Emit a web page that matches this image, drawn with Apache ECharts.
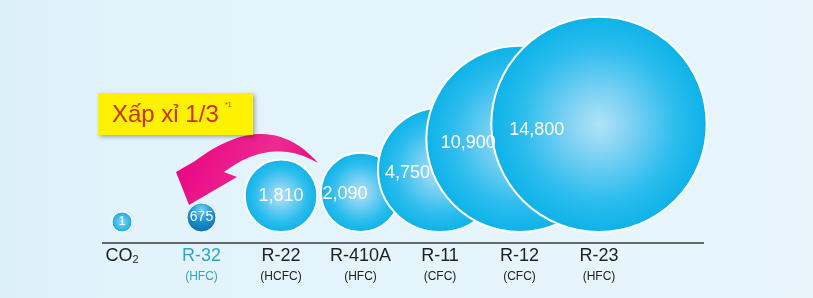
<!DOCTYPE html>
<html>
<head>
<meta charset="utf-8">
<script src="https://cdn.jsdelivr.net/npm/echarts@6/dist/echarts.min.js"></script>
<style>
html,body{margin:0;padding:0;background:#e3f4fb;}
#c{width:813px;height:298px;}
</style>
</head>
<body>
<div id="c"></div>
<script>
// ---- data ----
const categories = ['CO2', 'R-32', 'R-22', 'R-410A', 'R-11', 'R-12', 'R-23'];
const refTypes = ['', 'HFC', 'HCFC', 'HFC', 'CFC', 'CFC', 'HFC'];
const gwp = [1, 675, 1810, 2090, 4750, 10900, 14800];
const calloutText = 'Xấp xỉ 1/3';
const calloutNote = '*1';
const highlightCategory = 'R-32';

const FONT = '"Liberation Sans", Arial, sans-serif';
const sizeOf = v => Math.max(20, 2.77 * Math.pow(Math.max(v - 500, 0), 0.455));
const fmt = v => String(v).replace(/\B(?=(\d{3})+(?!\d))/g, ',');

function bubbleStyle(v) {
  if (v < 100) {
    return { opacity: 1, color: { type: 'radial', x: 0.5, y: 0.5, r: 0.5, colorStops: [
      { offset: 0, color: '#8edcf8' }, { offset: 0.6, color: '#3dbbeb' }, { offset: 1, color: '#1ea6df' }] },
      borderColor: '#ffffff', borderWidth: 1 };
  }
  if (v < 1000) {
    return { opacity: 1, color: { type: 'radial', x: 0.5, y: 0.25, r: 0.8, colorStops: [
      { offset: 0, color: '#7ad3f5' }, { offset: 0.45, color: '#1e92d0' }, { offset: 1, color: '#0b6aa8' }] },
      borderColor: '#ffffff', borderWidth: 1 };
  }
  return { opacity: 1, color: { type: 'radial', x: 0.5, y: 0.5, r: 0.5, colorStops: [
    { offset: 0, color: '#b2e3f7' }, { offset: 0.3, color: '#7dd1f3' },
    { offset: 0.7, color: '#2dbdee' }, { offset: 1, color: '#0cb2e8' }] },
    borderColor: '#ffffff', borderWidth: 2 };
}

function bubbleLabel(v, d) {
  const base = { show: true, color: '#ffffff', fontFamily: FONT,
    formatter: p => fmt(gwp[p.dataIndex]) };
  if (v < 100) return Object.assign(base, { position: 'inside', fontSize: 12 });
  if (v < 1000) return Object.assign(base, { position: 'inside', fontSize: 14 });
  if (v < 2000) return Object.assign(base, { position: 'inside', fontSize: 18 });
  return Object.assign(base, { position: [Math.max(2, 0.12 * d - 7), d * 0.53],
    align: 'left', verticalAlign: 'middle', fontSize: 18 });
}

const seriesData = gwp.map((v, i) => {
  const d = sizeOf(v);
  return {
    value: [categories[i], 0],
    symbolSize: d,
    symbolOffset: [0, -d / 2],
    itemStyle: bubbleStyle(v),
    label: bubbleLabel(v, d)
  };
});

// curved arrow (decoration)
function quad(p0, c, p1, n) {
  const pts = [];
  for (let k = 0; k <= n; k++) {
    const t = k / n, u = 1 - t;
    pts.push([u * u * p0[0] + 2 * u * t * c[0] + t * t * p1[0],
              u * u * p0[1] + 2 * u * t * c[1] + t * t * p1[1]]);
  }
  return pts;
}
const arrowPts = []
  .concat(quad([318, 163], [268, 106], [195, 161], 30))
  .concat([[176, 172], [189, 205], [237, 177], [224, 172]])
  .concat(quad([224, 172], [272, 136], [318, 163], 30).slice(1));

const chart = echarts.init(document.getElementById('c'), null, { renderer: 'canvas' });
chart.setOption({
  animation: false,
  backgroundColor: { type: 'linear', x: 0, y: 0, x2: 1, y2: 0, colorStops: [
    { offset: 0, color: '#dcf0fa' }, { offset: 0.15, color: '#e2f3fb' }, { offset: 1, color: '#e8f6fc' }] },
  grid: { left: 82.25, right: 174.25, top: 0, bottom: 66 },
  xAxis: {
    type: 'category',
    data: categories,
    boundaryGap: true,
    axisLine: { show: false },
    axisTick: { show: false },
    splitLine: { show: false },
    axisLabel: {
      margin: 13,
      interval: 0,
      fontFamily: FONT,
      formatter: (val, idx) => {
        const hl = val === highlightCategory;
        const n = hl ? 'n2' : 'n', s = hl ? 's2' : 's';
        if (val === 'CO2') return '{n|CO}{sub|2}';
        return '{' + n + '|' + val + '}\n{' + s + '|(' + refTypes[idx] + ')}';
      },
      rich: {
        n: { fontSize: 18, lineHeight: 22, color: '#222222', fontFamily: FONT },
        s: { fontSize: 12, lineHeight: 19, color: '#222222', fontFamily: FONT },
        n2: { fontSize: 18, lineHeight: 22, color: '#2ea6c6', fontFamily: FONT },
        s2: { fontSize: 12, lineHeight: 19, color: '#2ea6c6', fontFamily: FONT },
        sub: { fontSize: 11, lineHeight: 22, color: '#222222', fontFamily: FONT, padding: [8, 0, 0, 0] }
      }
    }
  },
  yAxis: { type: 'value', min: 0, max: 1, show: false },
  series: [{
    type: 'scatter',
    data: seriesData,
    symbol: 'circle',
    itemStyle: { opacity: 1 },
    z: 3
  }],
  graphic: [
    { type: 'line', shape: { x1: 102, y1: 243, x2: 704, y2: 243 },
      style: { stroke: '#3a3a3a', lineWidth: 1.5 }, z: 1 },
    { type: 'polygon', shape: { points: arrowPts }, z: 10,
      style: { fill: { type: 'linear', x: 0, y: 0, x2: 1, y2: 1, colorStops: [
        { offset: 0, color: '#e8007f' }, { offset: 0.6, color: '#ee2a92' }, { offset: 1, color: '#e3007a' }] } } },
    { type: 'rect', shape: { x: 98, y: 93, width: 155, height: 42 }, z: 11,
      style: { fill: '#fff200', shadowBlur: 4, shadowOffsetX: 2, shadowOffsetY: 2, shadowColor: 'rgba(0,0,0,0.3)' } },
    { type: 'text', x: 112, y: 115, z: 12,
      style: { text: calloutText, fill: '#c8321f', font: '24px ' + FONT, verticalAlign: 'middle' } },
    { type: 'text', x: 225, y: 105, z: 12,
      style: { text: calloutNote, fill: '#c8321f', font: '7px ' + FONT, verticalAlign: 'middle' } }
  ]
});
</script>
</body>
</html>
